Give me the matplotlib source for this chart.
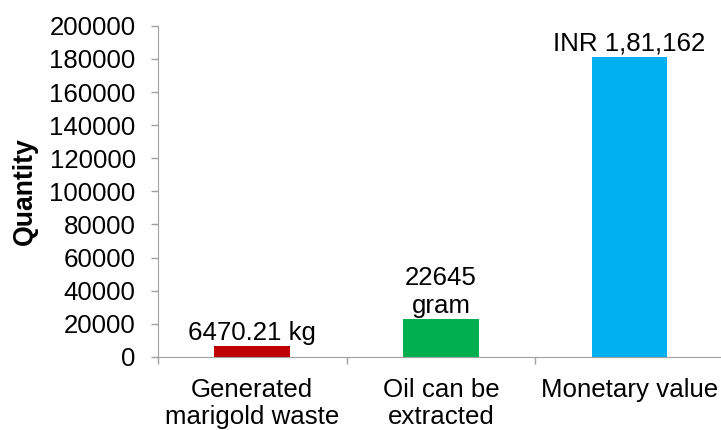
import matplotlib.pyplot as plt
import numpy as np

plt.rcParams['font.family'] = ['Liberation Sans', 'DejaVu Sans']

categories = ["Generated\nmarigold waste", "Oil can be\nextracted", "Monetary value"]
values = [6470.21, 22645, 181162]
bar_labels = ["6470.21 kg", "22645\ngram", "INR 1,81,162"]
colors = ["#C00000", "#00B050", "#00B0F0"]

FS = 18.6

fig = plt.figure(figsize=(7.21, 4.30), dpi=100)
ax = fig.add_axes([0.219, 0.170, 0.785, 0.770])

x = np.arange(len(categories))
ax.bar(x, values, width=0.4, color=colors)

for xi, v, lab in zip(x, values, bar_labels):
    ax.annotate(lab, (xi, v), xytext=(0, 1), textcoords='offset points',
                ha='center', va='bottom', fontsize=FS, linespacing=1.2)

ax.set_xlim(-0.5, len(categories) - 0.5)
ax.set_ylim(0, 200000)
ax.set_yticks(np.arange(0, 200001, 20000))
ax.set_xticks(x)
ax.set_xticklabels(categories, fontsize=FS, linespacing=1.18)
ax.set_xticks(np.arange(-0.5, len(categories), 1), minor=True)
ax.tick_params(axis='x', which='major', length=0, pad=15)
ax.tick_params(axis='x', which='minor', length=5, color='#A0A0A0', width=1)
ax.tick_params(axis='y', labelsize=FS, length=5, color='#A0A0A0', width=1, pad=11)

ax.set_ylabel("Quantity", fontsize=19.2, fontweight='bold', labelpad=8)

for s in ['top', 'right']:
    ax.spines[s].set_visible(False)
for s in ['left', 'bottom']:
    ax.spines[s].set_color('#A0A0A0')

fig.savefig("out.png", dpi=100)
